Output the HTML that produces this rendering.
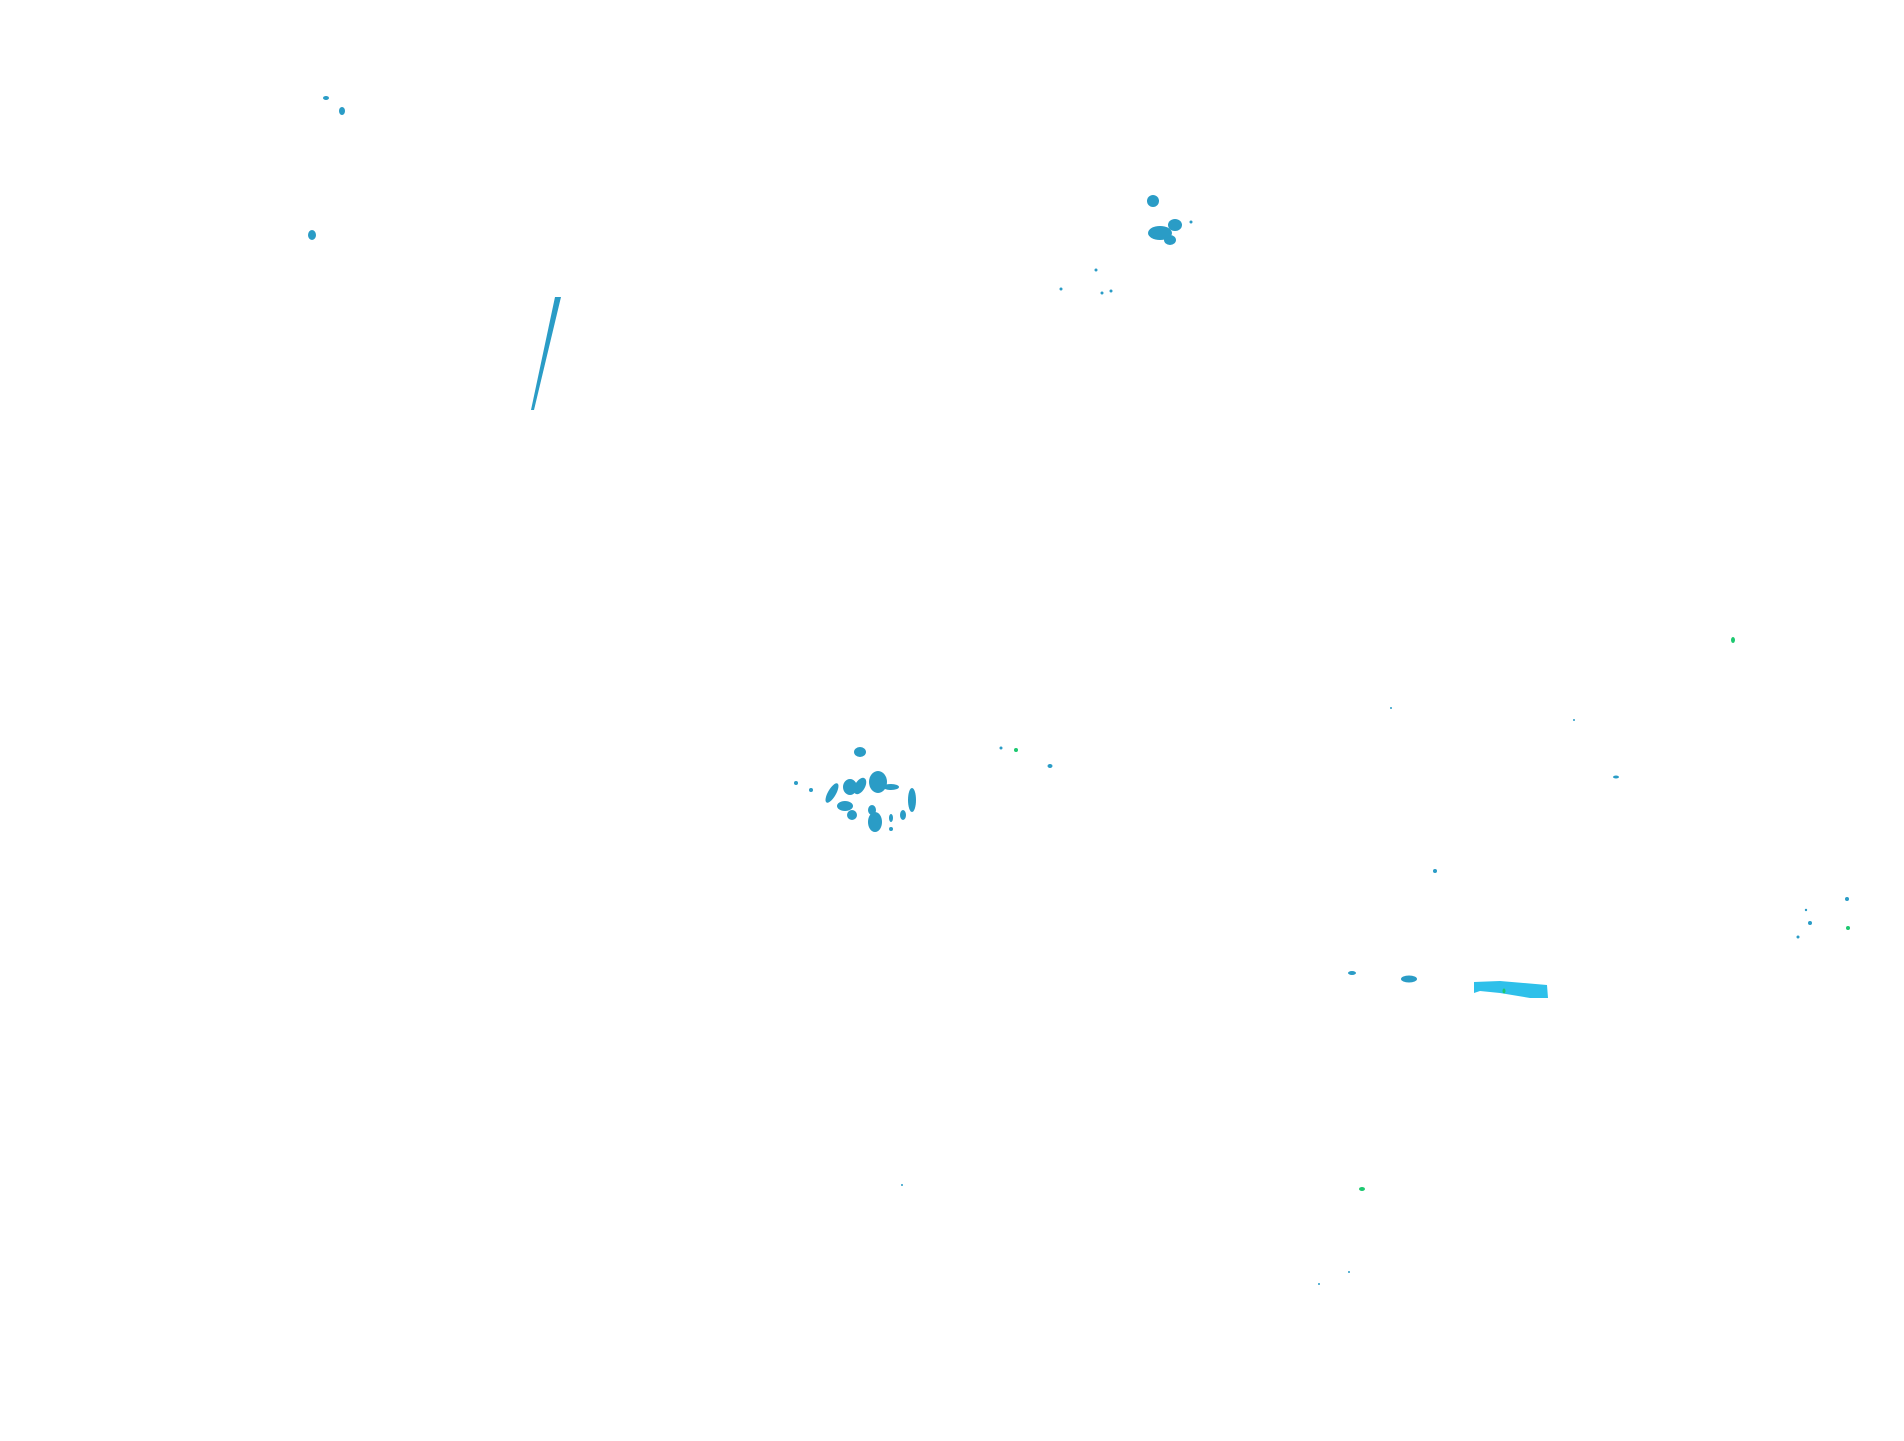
<!DOCTYPE html>
<html><head><style>html,body{margin:0;padding:0;background:#fff;}svg{display:block}</style></head>
<body>
<svg width="1904" height="1441" viewBox="0 0 1904 1441" xmlns="http://www.w3.org/2000/svg">
<g fill="#2a9cc6">
<ellipse cx="326" cy="98" rx="3" ry="2"/>
<ellipse cx="342" cy="111" rx="3" ry="4"/>
<ellipse cx="312" cy="235" rx="4" ry="5"/>
<polygon points="555,297 561,297 534,410 531,410"/>
<ellipse cx="1153" cy="201" rx="6" ry="6"/>
<ellipse cx="1160" cy="233" rx="12" ry="7"/>
<ellipse cx="1175" cy="225" rx="7" ry="6"/>
<ellipse cx="1170" cy="240" rx="6" ry="5"/>
<circle cx="1191" cy="222" r="1.5"/>
<circle cx="1096" cy="270" r="1.5"/>
<circle cx="1061" cy="289" r="1.5"/>
<circle cx="1102" cy="293" r="1.5"/>
<circle cx="1111" cy="291" r="1.5"/>
<!-- central cluster -->
<ellipse cx="860" cy="752" rx="6" ry="5"/>
<circle cx="796" cy="783" r="2"/>
<circle cx="811" cy="790" r="2"/>
<ellipse cx="832" cy="793" rx="4" ry="11" transform="rotate(30 832 793)"/>
<ellipse cx="850" cy="787" rx="7" ry="8"/>
<ellipse cx="860" cy="786" rx="5" ry="9" transform="rotate(30 860 786)"/>
<ellipse cx="878" cy="782" rx="9" ry="11"/>
<ellipse cx="891" cy="787" rx="8" ry="3"/>
<ellipse cx="845" cy="806" rx="8" ry="5"/>
<ellipse cx="852" cy="815" rx="5" ry="5"/>
<ellipse cx="875" cy="822" rx="7" ry="10"/>
<ellipse cx="872" cy="810" rx="4" ry="5"/>
<ellipse cx="912" cy="800" rx="4" ry="12"/>
<ellipse cx="903" cy="815" rx="3" ry="5"/>
<ellipse cx="891" cy="818" rx="2" ry="4"/>
<circle cx="891" cy="829" r="2"/>
<circle cx="1001" cy="748" r="1.5"/>
<ellipse cx="1050" cy="766" rx="2.5" ry="2"/>
<circle cx="1391" cy="708" r="1"/>
<circle cx="1574" cy="720" r="1"/>
<ellipse cx="1616" cy="777" rx="3" ry="1.5"/>
<circle cx="1435" cy="871" r="2"/>
<ellipse cx="1352" cy="973" rx="4" ry="2"/>
<ellipse cx="1409" cy="979" rx="8" ry="3.5"/>
<circle cx="1847" cy="899" r="2"/>
<circle cx="1806" cy="910" r="1.2"/>
<circle cx="1810" cy="923" r="2"/>
<circle cx="1798" cy="937" r="1.5"/>
<circle cx="902" cy="1185" r="1"/>
<circle cx="1319" cy="1284" r="1"/>
<circle cx="1349" cy="1272" r="1"/>
</g>
<polygon points="1474,982 1500,981 1547,985 1548,998 1530,998 1500,993 1480,991 1474,993" fill="#2ec0ea"/>
<g fill="#1dc870">
<circle cx="1016" cy="750" r="2"/>
<ellipse cx="1733" cy="640" rx="2" ry="3"/>
<circle cx="1848" cy="928" r="2"/>
<ellipse cx="1362" cy="1189" rx="3" ry="2"/>
<ellipse cx="1504" cy="991" rx="1.5" ry="2.5"/>
</g>
</svg>
</body></html>
